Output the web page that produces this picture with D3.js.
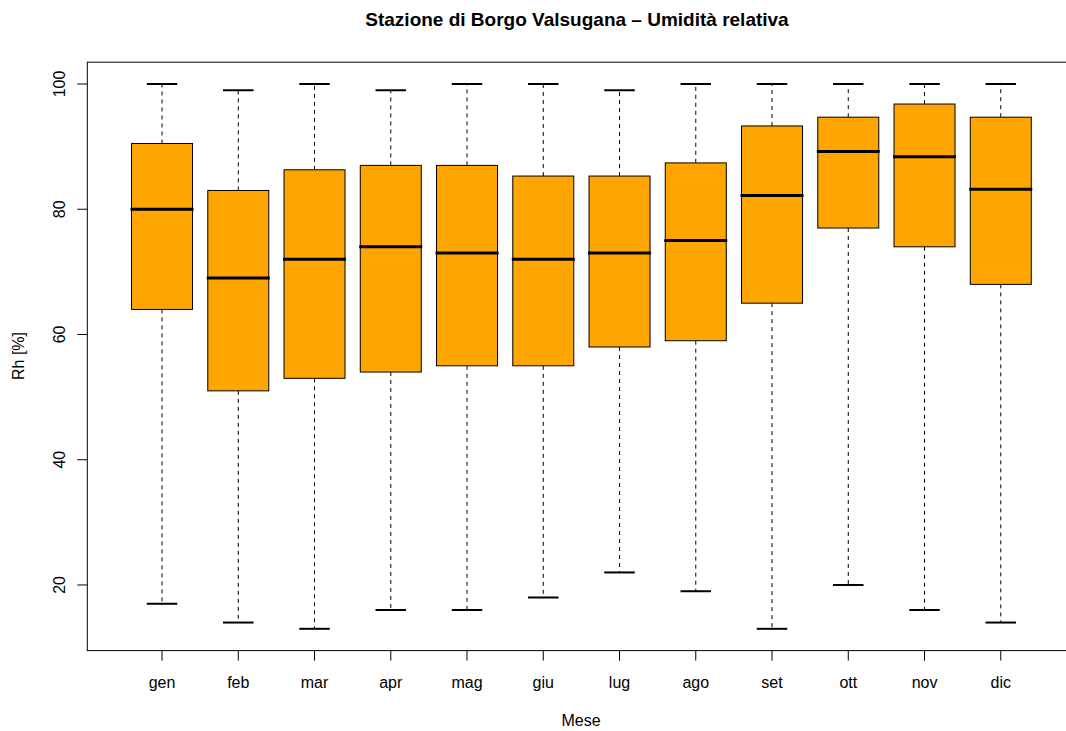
<!DOCTYPE html>
<html><head><meta charset="utf-8">
<script src="https://cdn.jsdelivr.net/npm/d3@7"></script>
<style>body{margin:0;background:#fff;overflow:hidden;} svg{display:block;font-family:"Liberation Sans",Arial,Helvetica,sans-serif;}</style>
</head><body>
<svg id="c" width="1066" height="731"></svg>
<script>
const months = ["gen","feb","mar","apr","mag","giu","lug","ago","set","ott","nov","dic"];
const whiskerLow = [17,14,13,16,16,18,22,19,13,20,16,14];
const q1 =         [64,51,53,54,55,55,58,59,65,77,74,68];
const median =     [80,69,72,74,73,72,73,75,82.2,89.2,88.4,83.2];
const q3 =         [90.5,83,86.3,87,87,85.3,85.3,87.4,93.3,94.7,96.8,94.7];
const whiskerHigh =[100,99,100,99,100,100,99,100,100,100,100,100];
const yTicks = [20,40,60,80,100];

const svg = d3.select("#c");
const x = d3.scaleLinear().domain([0.02,12.98]).range([87.3,1075.5]);
const y = d3.scaleLinear().domain([9.52,103.48]).range([650.6,62.2]);
const step = x(2)-x(1);
const bw = 0.8*step;

svg.append("rect").attr("x",x(0.02)).attr("y",y(103.48)).attr("width",x(12.98)-x(0.02)).attr("height",y(9.52)-y(103.48))
  .attr("fill","none").attr("stroke","#000").attr("stroke-width",1);

const g = svg.append("g");
months.forEach((m,i)=>{
  const cx = x(i+1);
  g.append("line").attr("x1",cx).attr("x2",cx).attr("y1",y(q3[i])).attr("y2",y(whiskerHigh[i]))
    .attr("stroke","#000").attr("stroke-dasharray","4,4");
  g.append("line").attr("x1",cx).attr("x2",cx).attr("y1",y(q1[i])).attr("y2",y(whiskerLow[i]))
    .attr("stroke","#000").attr("stroke-dasharray","4,4");
  g.append("line").attr("x1",cx-bw/4).attr("x2",cx+bw/4).attr("y1",y(whiskerHigh[i])).attr("y2",y(whiskerHigh[i]))
    .attr("stroke","#000").attr("stroke-width",2);
  g.append("line").attr("x1",cx-bw/4).attr("x2",cx+bw/4).attr("y1",y(whiskerLow[i])).attr("y2",y(whiskerLow[i]))
    .attr("stroke","#000").attr("stroke-width",2);
  g.append("rect").attr("x",cx-bw/2).attr("y",y(q3[i])).attr("width",bw).attr("height",y(q1[i])-y(q3[i]))
    .attr("fill","#FFA500").attr("stroke","#000").attr("stroke-width",1);
  g.append("line").attr("x1",cx-bw/2-1).attr("x2",cx+bw/2+1).attr("y1",y(median[i])).attr("y2",y(median[i]))
    .attr("stroke","#000").attr("stroke-width",3);
});

const ya = svg.append("g").attr("transform",`translate(${x(0.02)},0)`);
yTicks.forEach(t=>{
  ya.append("line").attr("x1",0).attr("x2",-10).attr("y1",y(t)).attr("y2",y(t)).attr("stroke","#000");
  ya.append("text").attr("transform",`translate(-22,${y(t)}) rotate(-90)`).attr("text-anchor","middle")
    .attr("font-size","16px").text(t);
});
const xa = svg.append("g").attr("transform",`translate(0,${y(9.52)})`);
months.forEach((m,i)=>{
  xa.append("line").attr("x1",x(i+1)).attr("x2",x(i+1)).attr("y1",0).attr("y2",10).attr("stroke","#000");
  xa.append("text").attr("x",x(i+1)).attr("y",37).attr("text-anchor","middle").attr("font-size","16px").text(m);
});

svg.append("text").attr("x",577).attr("y",26).attr("text-anchor","middle").attr("font-weight","bold")
  .attr("font-size","19px").text("Stazione di Borgo Valsugana – Umidità relativa");
svg.append("text").attr("x",581).attr("y",726).attr("text-anchor","middle").attr("font-size","16px").text("Mese");
svg.append("text").attr("transform",`translate(24,356) rotate(-90)`).attr("text-anchor","middle").attr("font-size","16px").text("Rh [%]");
</script>
</body></html>
